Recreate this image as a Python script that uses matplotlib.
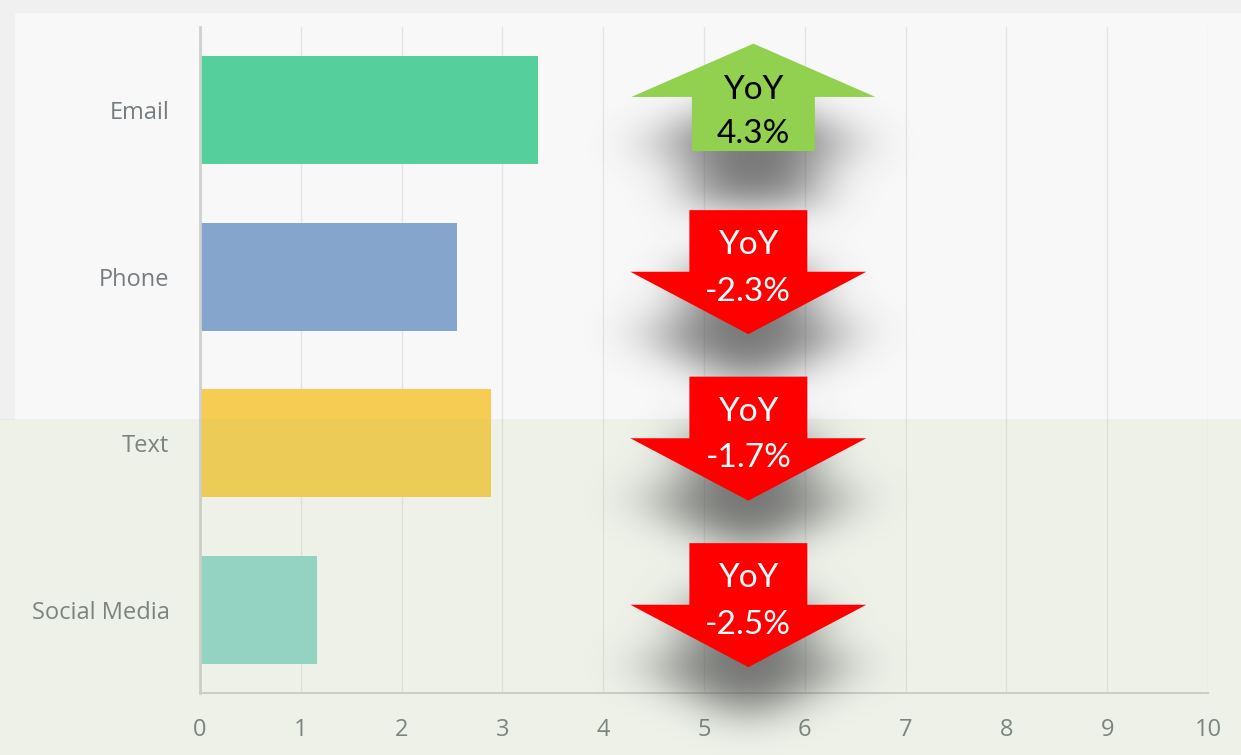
import numpy as np
import matplotlib.pyplot as plt
from matplotlib.patches import Polygon, Rectangle
from matplotlib.path import Path

categories = ['Email', 'Phone', 'Text', 'Social Media']
values = [3.35, 2.55, 2.89, 1.16]
yoy = [4.3, -2.3, -1.7, -2.5]
bar_colors = ['#55d09c', '#85a5cc', '#f6cd52', '#92d4cb']
xticks = list(range(0, 11))

fig = plt.figure(figsize=(12.41, 7.55), dpi=100)
fig.patch.set_facecolor('#f8f8f8')
# outer frame strips (screenshot look)
fig.patches.append(Rectangle((0, 1 - 12 / 755), 1, 12 / 755, transform=fig.transFigure,
                             color='#f0f0f0', zorder=-5))
fig.patches.append(Rectangle((0, 0.445), 14 / 1241, 0.555, transform=fig.transFigure,
                             color='#f0f0f0', zorder=-5))

ax = fig.add_axes([200 / 1241, 62 / 755, 1008 / 1241, 666 / 755])
ax.set_facecolor('none')

y = np.arange(len(categories))
ax.barh(y, values, height=0.65, color=bar_colors, zorder=2)

ax.set_xlim(0, 10)
ax.set_ylim(len(categories) - 0.5, -0.5)
ax.set_xticks(xticks)
ax.set_yticks(y)
ax.set_yticklabels(categories)
ax.tick_params(axis='both', length=0, labelcolor='#767c80', labelsize=17)
ax.tick_params(axis='x', pad=18)
ax.tick_params(axis='y', pad=22)
for lab in ax.get_xticklabels() + ax.get_yticklabels():
    lab.set_fontfamily('Open Sans')
ax.grid(axis='x', color='#e4e4e4', lw=1, zorder=0)
ax.set_axisbelow(True)
for s in ['top', 'right']:
    ax.spines[s].set_visible(False)
ax.spines['left'].set_color('#d0d0d0')
ax.spines['left'].set_linewidth(2)
ax.spines['bottom'].set_color('#d0d0d0')
ax.spines['bottom'].set_linewidth(1.5)

# greenish lower background tint
ax.add_patch(Rectangle((0, 0), 1, 0.445, transform=fig.transFigure, clip_on=False,
                       facecolor='#a5c67b', alpha=0.12, lw=0, zorder=3))

# YoY arrows
cx_up, cx_dn = 5.49, 5.44


def arrow_poly(i, up):
    if up:
        cx, sw, hw = cx_up, 0.61, 1.21
        top, head, bot = i - 0.40, i - 0.08, i + 0.245
        return [(cx, top), (cx + hw, head), (cx + sw, head), (cx + sw, bot),
                (cx - sw, bot), (cx - sw, head), (cx - hw, head)]
    cx, sw, hw = cx_dn, 0.585, 1.17
    top, head, tip = i - 0.40, i - 0.03, i + 0.345
    return [(cx - sw, top), (cx + sw, top), (cx + sw, head), (cx + hw, head),
            (cx, tip), (cx - hw, head), (cx - sw, head)]


# blurred drop shadows
y0, y1 = -0.5, len(categories) - 0.5 + 0.4
xs = np.linspace(0, 10, 500)
ys = np.linspace(y0, y1, 440)
X, Y = np.meshgrid(xs, ys)
pts = np.column_stack([X.ravel(), Y.ravel()])
mask = np.zeros(X.size)
for i, v in enumerate(yoy):
    poly = np.array(arrow_poly(i, v > 0))
    poly[:, 1] += 0.32
    mask = np.maximum(mask, Path(poly).contains_points(pts).astype(float))
mask = mask.reshape(X.shape)


def gauss(sig):
    k = np.arange(-3 * sig, 3 * sig + 1)
    g = np.exp(-0.5 * (k / sig) ** 2)
    return g / g.sum()


gx, gy = gauss(14), gauss(11)
blur = np.apply_along_axis(lambda r: np.convolve(r, gx, mode='same'), 1, mask)
blur = np.apply_along_axis(lambda c: np.convolve(c, gy, mode='same'), 0, blur)
rgba = np.zeros(X.shape + (4,))
rgba[..., :3] = 0.3
rgba[..., 3] = np.clip(0.75 * blur, 0, 1)
im = ax.imshow(rgba, extent=(0, 10, y1, y0), aspect='auto', zorder=4,
               interpolation='bilinear')
im.set_clip_on(False)
ax.set_xlim(0, 10)
ax.set_ylim(len(categories) - 0.5, -0.5)

for i, v in enumerate(yoy):
    up = v > 0
    ax.add_patch(Polygon(arrow_poly(i, up), closed=True, lw=0, zorder=5,
                         facecolor='#92d050' if up else '#ff0000'))
    if up:
        cx, ty1, ty2, tc = cx_up, i - 0.12, i + 0.14, 'black'
    else:
        cx, ty1, ty2, tc = cx_dn, i - 0.19, i + 0.09, 'white'
    ax.text(cx, ty1, 'YoY', ha='center', va='center', fontsize=24, color=tc,
            family='Lato', zorder=6)
    ax.text(cx, ty2, f'{v:.1f}%', ha='center', va='center', fontsize=24, color=tc,
            family='Lato', zorder=6)

fig.savefig('out.png', dpi=100, facecolor=fig.get_facecolor())
